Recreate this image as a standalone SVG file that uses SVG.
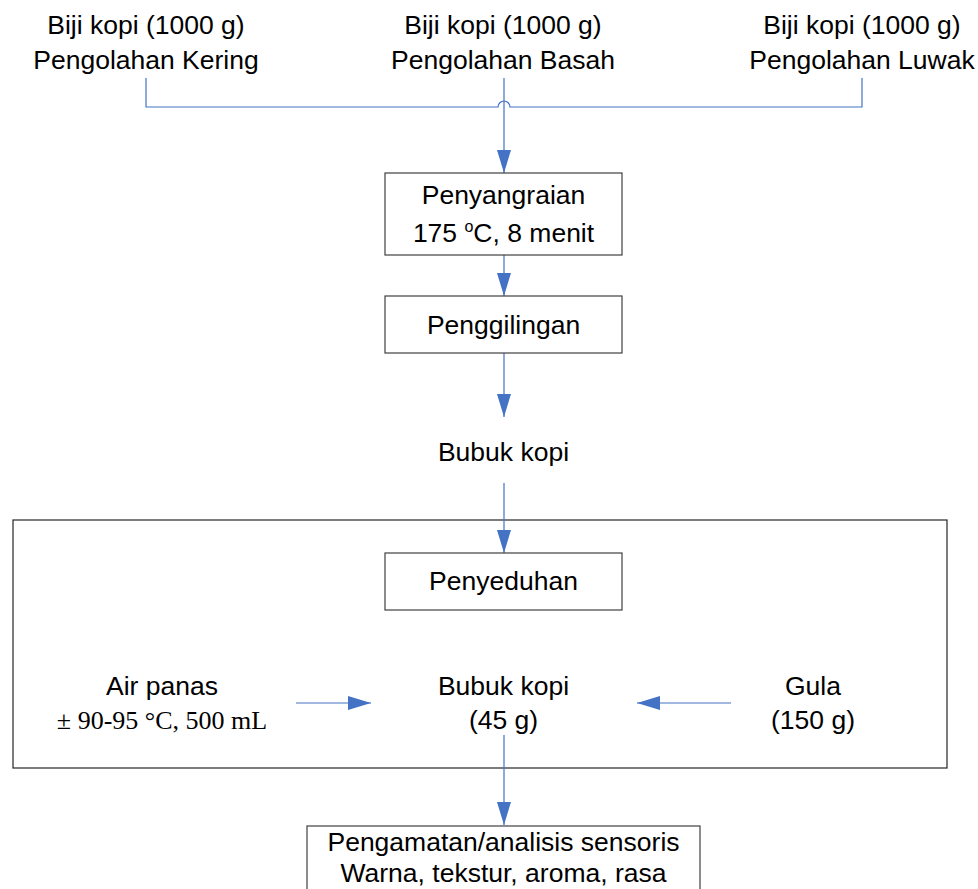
<svg xmlns="http://www.w3.org/2000/svg" width="978" height="889" viewBox="0 0 978 889">
<style>
  .t { font-family: "Liberation Sans", Arial, sans-serif; font-size: 26.5px; fill: #000; text-anchor: middle; }
  .s { font-family: "Liberation Serif", "Times New Roman", serif; font-size: 26px; fill: #000; text-anchor: middle; }
  .box { fill: #fff; stroke: #404040; stroke-width: 1.2; }
  .c { fill: none; stroke: #4472C4; stroke-width: 1.2; }
</style>
<defs>
  <marker id="ah" markerUnits="userSpaceOnUse" markerWidth="24" markerHeight="14" refX="23" refY="7" orient="auto">
    <path d="M0,0 L23,7 L0,14 Z" fill="#4472C4"/>
  </marker>
</defs>
<rect width="978" height="889" fill="#fff"/>

<g id="big-frame">
  <rect x="13" y="520" width="934" height="248" fill="none" stroke="#262626" stroke-width="1.2"/>
</g>

<g id="connectors">
  <path class="c" d="M146,78 V107 H498 A6,6 0 0 1 510,107 H862 V78"/>
  <path class="c" d="M504,78 V173" marker-end="url(#ah)"/>
  <path class="c" d="M504,255 V296" marker-end="url(#ah)"/>
  <path class="c" d="M504,353 V417" marker-end="url(#ah)"/>
  <path class="c" d="M504,483 V553" marker-end="url(#ah)"/>
  <path class="c" d="M296,703 H371" marker-end="url(#ah)"/>
  <path class="c" d="M731,703 H637" marker-end="url(#ah)"/>
  <path class="c" d="M504,735 V825" marker-end="url(#ah)"/>
</g>

<g id="src-kering">
  <text class="t" x="146" y="34">Biji kopi (1000 g)</text>
  <text class="t" x="146" y="69">Pengolahan Kering</text>
</g>
<g id="src-basah">
  <text class="t" x="503" y="34">Biji kopi (1000 g)</text>
  <text class="t" x="503" y="69">Pengolahan Basah</text>
</g>
<g id="src-luwak">
  <text class="t" x="862" y="34">Biji kopi (1000 g)</text>
  <text class="t" x="862" y="69">Pengolahan Luwak</text>
</g>

<g id="penyangraian">
  <rect class="box" x="385" y="173" width="237" height="82"/>
  <text class="t" x="503.5" y="204">Penyangraian</text>
  <text class="t" x="503.5" y="242">175 <tspan font-size="16" dy="-10">o</tspan><tspan dy="10">C, 8 menit</tspan></text>
</g>

<g id="penggilingan">
  <rect class="box" x="385" y="296" width="237" height="57"/>
  <text class="t" x="503.5" y="334">Penggilingan</text>
</g>

<g id="bubuk-kopi">
  <text class="t" x="503.5" y="461">Bubuk kopi</text>
</g>

<g id="penyeduhan">
  <rect class="box" x="385" y="553" width="237" height="57"/>
  <text class="t" x="503.5" y="590">Penyeduhan</text>
</g>

<g id="air-panas">
  <text class="t" x="162" y="695">Air panas</text>
  <text class="s" x="162" y="729">± 90-95 °C, 500 mL</text>
</g>

<g id="bubuk-45">
  <text class="t" x="503.5" y="695">Bubuk kopi</text>
  <text class="t" x="503.5" y="729">(45 g)</text>
</g>

<g id="gula">
  <text class="t" x="813" y="695">Gula</text>
  <text class="t" x="813" y="729">(150 g)</text>
</g>

<g id="analisis">
  <rect class="box" x="307" y="826" width="393" height="70"/>
  <text class="t" x="503.5" y="851">Pengamatan/analisis sensoris</text>
  <text class="t" x="503.5" y="882">Warna, tekstur, aroma, rasa</text>
</g>
</svg>
